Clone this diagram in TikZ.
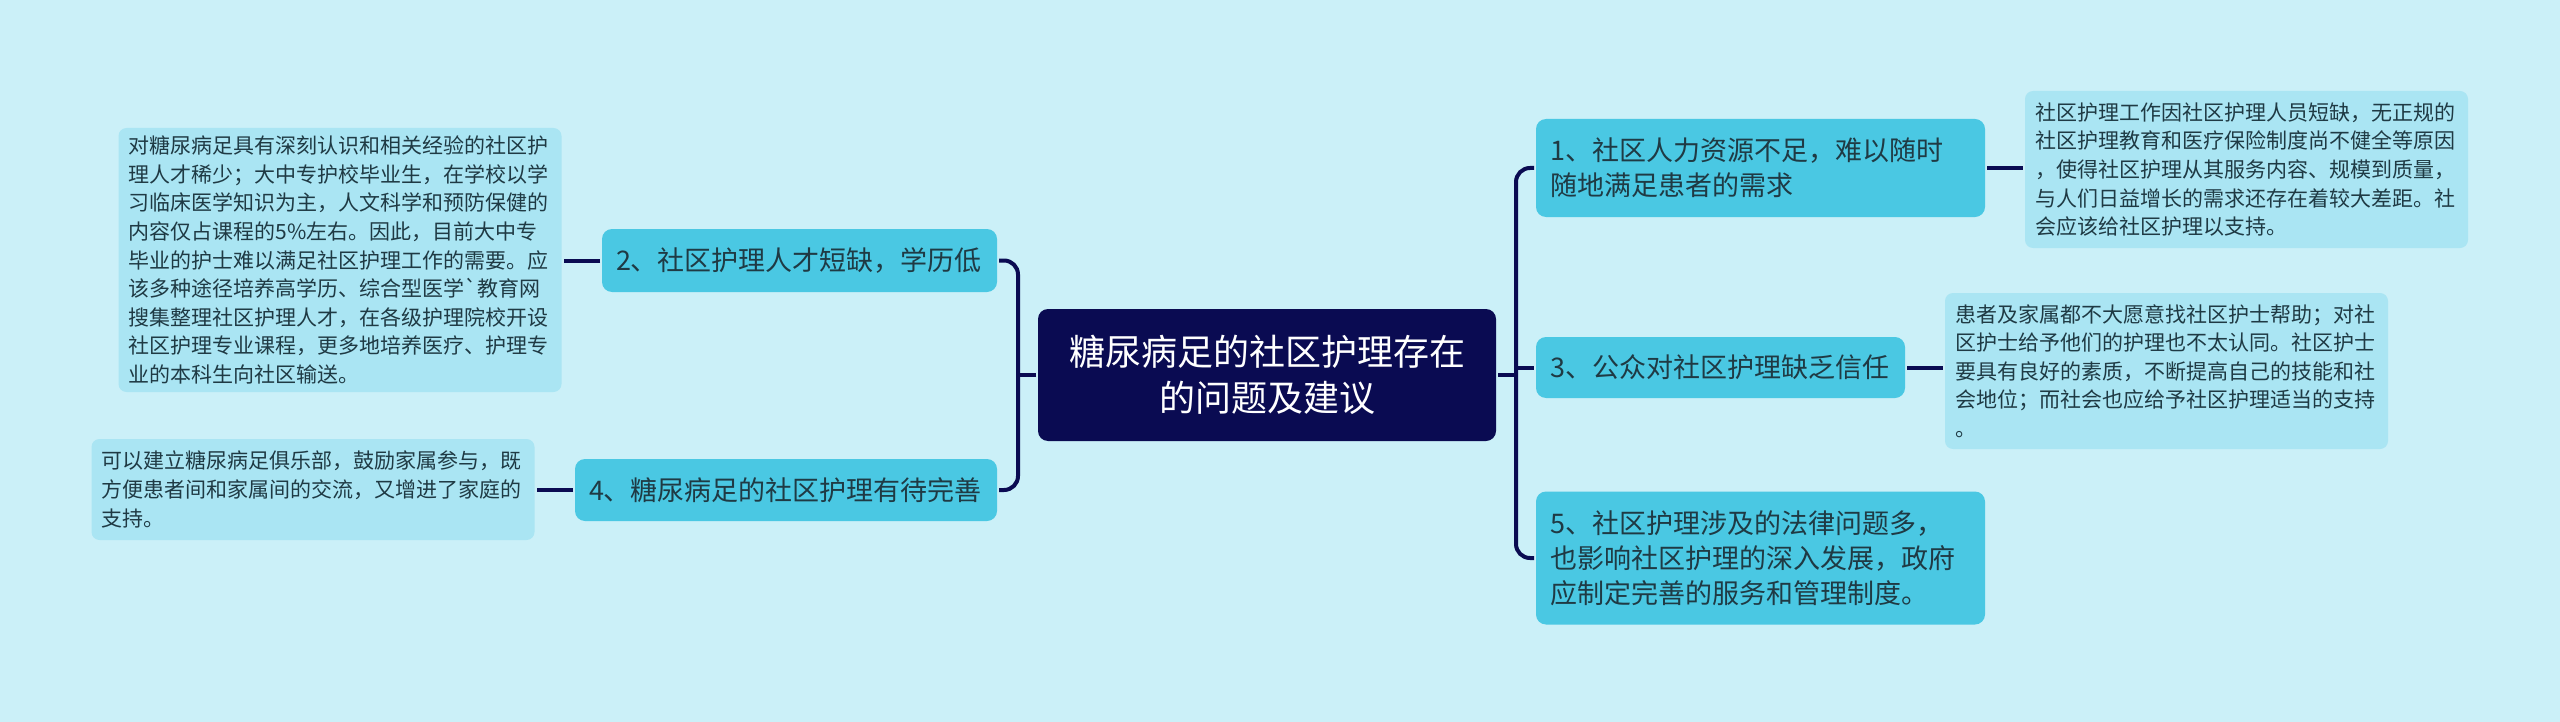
\documentclass[tikz,border=0pt]{standalone}
\usepackage{fontspec}
\setmainfont{Noto Sans CJK SC}
\usepackage{xcolor}
\definecolor{bgcol}{HTML}{CBF0F8}
\definecolor{navy}{HTML}{0A0B52}
\definecolor{subcol}{HTML}{4AC8E3}
\definecolor{leafcol}{HTML}{AAE5F3}
\definecolor{txtcol}{HTML}{1F3A44}

\begin{document}
\begin{tikzpicture}[x=0.5pt,y=-0.5pt,line width=2pt,
  topic/.style={rectangle,rounded corners=5pt,fill=navy,text=white,align=center,text width=215pt,inner xsep=7pt,inner ysep=2pt,minimum height=66pt,font=\fontsize{18pt}{23pt}\selectfont},
  sub/.style={rectangle,rounded corners=5pt,fill=subcol,text=txtcol,align=left,inner xsep=7pt,inner ysep=2pt,font=\fontsize{13.5pt}{17.5pt}\selectfont},
  leaf/.style={rectangle,rounded corners=4pt,fill=leafcol,text=txtcol,align=left,text width=211.5pt,inner xsep=5pt,inner ysep=2pt,font=\fontsize{10.5pt}{14.3pt}\selectfont},
  link/.style={draw=navy,line width=2pt}]

\fill[bgcol] (0,0) rectangle (2560,722);

\node[topic] (c) at (1267,375) {糖尿病足的社区护理存在\\的问题及建议};

\foreach \n/\x/\y/\w/\h/\t in {1/1760.5/168/210.5pt/49pt/1、社区人力资源不足，难以随时\\随地满足患者的需求, 3/1720.5/367.5/170.5pt/30.5pt/3、公众对社区护理缺乏信任, 5/1760.5/558/210.5pt/66.5pt/5、社区护理涉及的法律问题多，\\也影响社区护理的深入发展，政府\\应制定完善的服务和管理制度。, 2/799.5/260.5/183.5pt/31.5pt/2、社区护理人才短缺，学历低, 4/786/490/197pt/31pt/4、糖尿病足的社区护理有待完善}
\node[sub,text width=\w,minimum height=\h] (s\n) at (\x,\y) {\t};

\foreach \n/\x/\y/\h/\t in {1/2246.5/169.5/78.5pt/社区护理工作因社区护理人员短缺，无正规的\\社区护理教育和医疗保险制度尚不健全等原因\\，使得社区护理从其服务内容、规模到质量，\\与人们日益增长的需求还存在着较大差距。社\\会应该给社区护理以支持。, 3/2166.5/371/78pt/患者及家属都不大愿意找社区护士帮助；对社\\区护士给予他们的护理也不太认同。社区护士\\要具有良好的素质，不断提高自己的技能和社\\会地位；而社会也应给予社区护理适当的支持\\。, 2/340/260/132pt/对糖尿病足具有深刻认识和相关经验的社区护\\理人才稀少；大中专护校毕业生，在学校以学\\习临床医学知识为主，人文科学和预防保健的\\内容仅占课程的5\%左右。因此，目前大中专\\毕业的护士难以满足社区护理工作的需要。应\\该多种途径培养高学历、综合型医学\textasciigrave 教育网\\搜集整理社区护理人才，在各级护理院校开设\\社区护理专业课程，更多地培养医疗、护理专\\业的本科生向社区输送。, 4/313/489.5/50.5pt/可以建立糖尿病足俱乐部，鼓励家属参与，既\\方便患者间和家属间的交流，又增进了家庭的\\支持。}
\node[leaf,minimum height=\h] (l\n) at (\x,\y) {\t};

\coordinate (lt) at (1018,375);
\coordinate (rt) at (1516,375);

\draw[link] (c.west) -- (lt);
\draw[link,rounded corners=7pt] (s2.east) -| (lt) |- (s4.east);
\draw[link] (c.east) -- (rt);
\draw[link,rounded corners=7pt] (s1.west) -| (rt) |- (s5.west);
\draw[link] (s3.west -| rt) -- (s3.west);

\draw[link] (s1.east) -- (s1.east -| l1.west);
\draw[link] (s3.east) -- (s3.east -| l3.west);
\draw[link] (s2.west) -- (s2.west -| l2.east);
\draw[link] (s4.west) -- (s4.west -| l4.east);

\end{tikzpicture}
\end{document}
